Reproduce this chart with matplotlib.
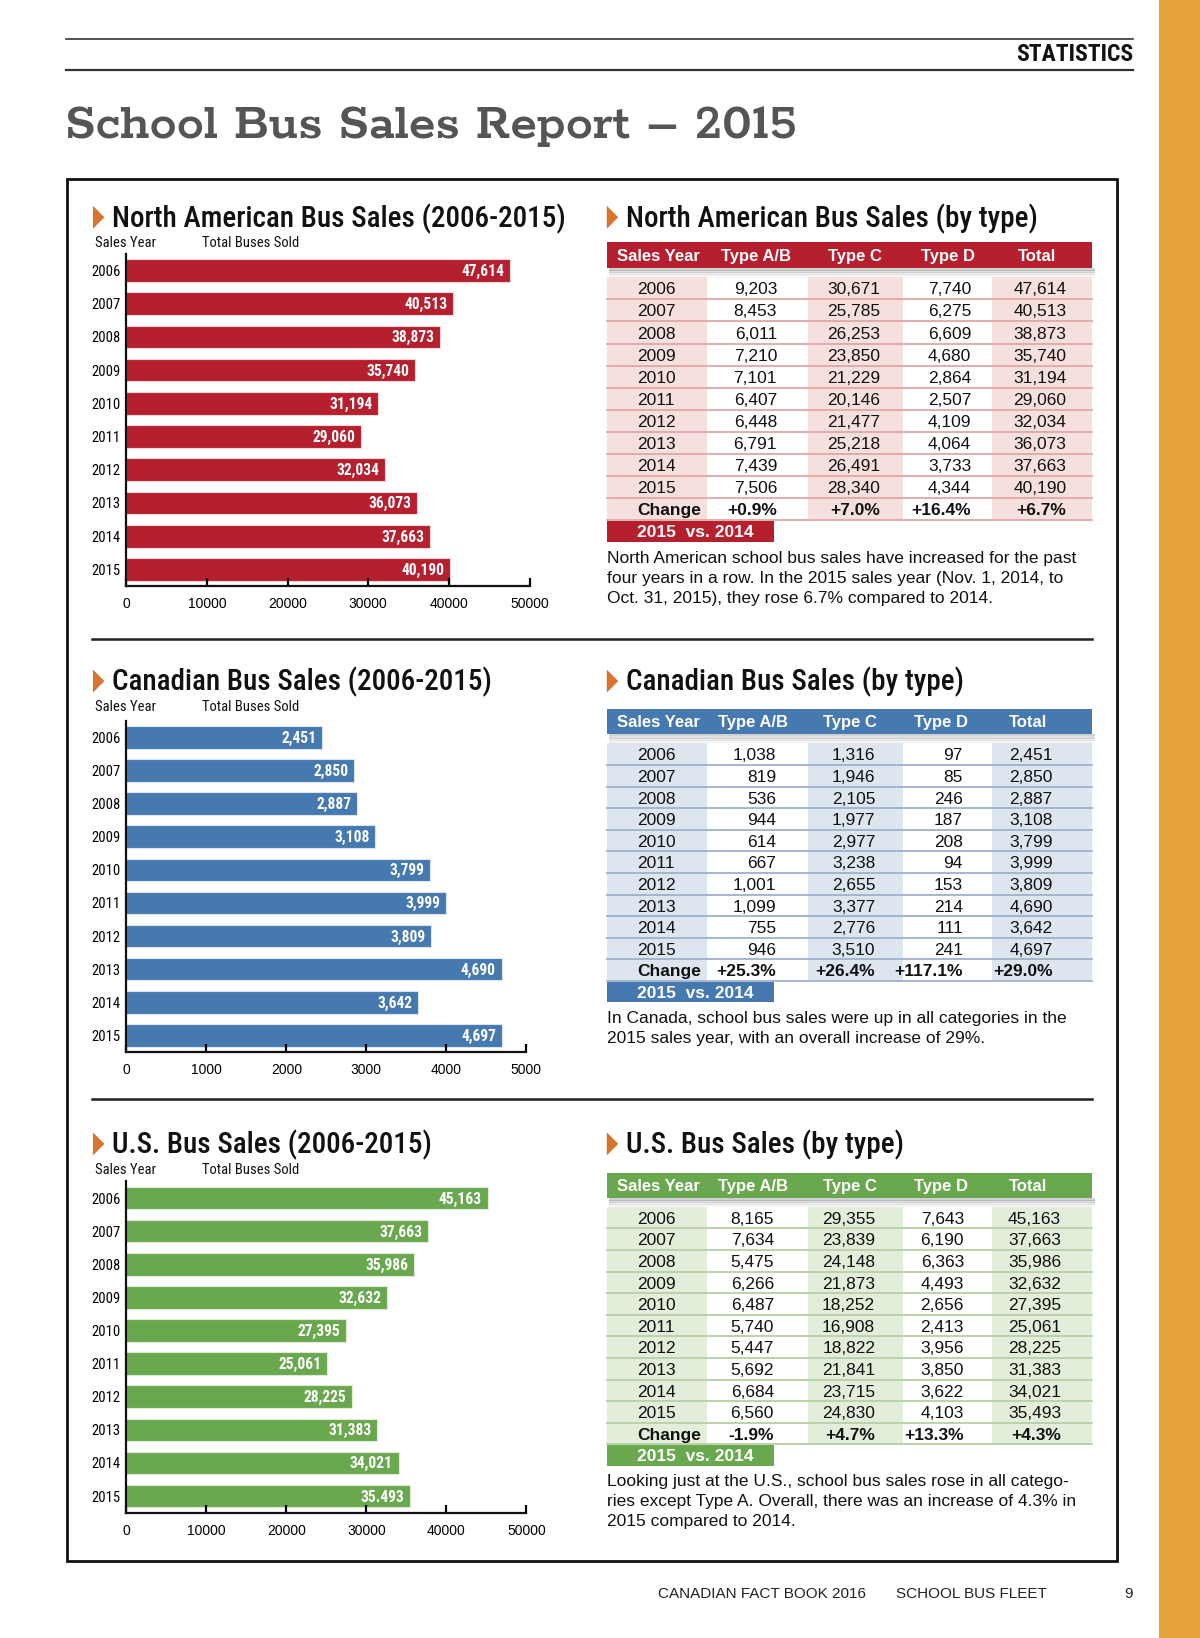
import matplotlib
matplotlib.use("Agg")
import matplotlib.pyplot as plt
from matplotlib.patches import Rectangle, Polygon
from matplotlib import font_manager as fm
import numpy as np

# ---------------- data ----------------
years = [2006, 2007, 2008, 2009, 2010, 2011, 2012, 2013, 2014, 2015]

na_total = [47614, 40513, 38873, 35740, 31194, 29060, 32034, 36073, 37663, 40190]
na_ab = [9203, 8453, 6011, 7210, 7101, 6407, 6448, 6791, 7439, 7506]
na_c = [30671, 25785, 26253, 23850, 21229, 20146, 21477, 25218, 26491, 28340]
na_d = [7740, 6275, 6609, 4680, 2864, 2507, 4109, 4064, 3733, 4344]
na_change = ["+0.9%", "+7.0%", "+16.4%", "+6.7%"]

ca_total = [2451, 2850, 2887, 3108, 3799, 3999, 3809, 4690, 3642, 4697]
ca_ab = [1038, 819, 536, 944, 614, 667, 1001, 1099, 755, 946]
ca_c = [1316, 1946, 2105, 1977, 2977, 3238, 2655, 3377, 2776, 3510]
ca_d = [97, 85, 246, 187, 208, 94, 153, 214, 111, 241]
ca_change = ["+25.3%", "+26.4%", "+117.1%", "+29.0%"]

us_total = [45163, 37663, 35986, 32632, 27395, 25061, 28225, 31383, 34021, 35493]
us_ab = [8165, 7634, 5475, 6266, 6487, 5740, 5447, 5692, 6684, 6560]
us_c = [29355, 23839, 24148, 21873, 18252, 16908, 18822, 21841, 23715, 24830]
us_d = [7643, 6190, 6363, 4493, 2656, 2413, 3956, 3850, 3622, 4103]
us_change = ["-1.9%", "+4.7%", "+13.3%", "+4.3%"]

table_header = ["Sales Year", "Type A/B", "Type C", "Type D", "Total"]

na_text = ["North American school bus sales have increased for the past",
           "four years in a row. In the 2015 sales year (Nov. 1, 2014, to",
           "Oct. 31, 2015), they rose 6.7% compared to 2014."]
ca_text = ["In Canada, school bus sales were up in all categories in the",
           "2015 sales year, with an overall increase of 29%."]
us_text = ["Looking just at the U.S., school bus sales rose in all catego-",
           "ries except Type A. Overall, there was an increase of 4.3% in",
           "2015 compared to 2014."]


# ---------------- fonts ----------------
def pick(cands):
    for c in cands:
        try:
            fm.findfont(fm.FontProperties(family=c), fallback_to_default=False)
            return c
        except Exception:
            pass
    return "DejaVu Sans"


COND = [pick(["Roboto Condensed", "Archivo Narrow", "Fira Sans Condensed"]), "DejaVu Sans"]
SANS = [pick(["Liberation Sans", "Arimo"]), "DejaVu Sans"]
SERIF = [pick(["Rokkitt", "Zilla Slab", "Roboto Slab", "DejaVu Serif"]), "DejaVu Serif"]

# ---------------- layout ----------------
W, H = 1149.0, 1568.0
DY = 1.5  # small downward nudge for table texts
fig = plt.figure(figsize=(12, 16.38), dpi=100)
fig.patch.set_facecolor("white")

page = fig.add_axes([0, 0, 1, 1])
page.set_xlim(0, W)
page.set_ylim(H, 0)
page.axis("off")


def frac(x0, y0, x1, y1):
    return [x0 / W, 1 - y1 / H, (x1 - x0) / W, (y1 - y0) / H]


# page decorations
page.add_patch(Rectangle((1110, 0), 39, H, color="#E5A23A", lw=0))
page.plot([63, 1085], [37, 37], color="#333333", lw=1.2)
page.plot([63, 1085], [67, 67], color="#333333", lw=1.6)
page.text(1085, 52, "STATISTICS", ha="right", va="center", fontsize=17,
          fontweight="bold", family=COND, color="#111111")
page.text(62, 121, "School Bus Sales Report \u2013 2015", ha="left", va="center",
          fontsize=39, fontweight="bold", family=SERIF, color="#555555")
page.add_patch(Rectangle((64, 171), 1006, 1323, fill=False, ec="#111111", lw=2))
for ys in (612, 1052):
    page.plot([88, 1046], [ys, ys], color="#222222", lw=1.8)

# footer
page.text(630, 1526, "CANADIAN FACT BOOK 2016", ha="left", va="center", fontsize=11,
          family=SANS, color="#222222")
page.text(858, 1526, "SCHOOL BUS FLEET", ha="left", va="center", fontsize=11,
          family=SANS, color="#222222")
page.text(1085, 1526, "9", ha="right", va="center", fontsize=11, family=SANS, color="#222222")


def section_title(x, y, text):
    page.add_patch(Polygon([[x, y - 11], [x, y + 11], [x + 11, y]], closed=True,
                           color="#D9742F", lw=0))
    page.text(x + 18, y + 1, text, ha="left", va="center", fontsize=21,
              fontweight="medium", family=COND, color="#111111")


def bar_chart(top, bottom, right, xmax, values, color, title, ty):
    section_title(89, ty, title)
    page.text(91, ty + 25, "Sales Year", ha="left", va="center", fontsize=10.5,
              family=COND, color="#111111")
    page.text(193, ty + 25, "Total Buses Sold", ha="left", va="center", fontsize=10.5,
              family=COND, color="#111111")
    ax = fig.add_axes(frac(121, top, right, bottom))
    pos = np.arange(len(years))
    ax.barh(pos, values, height=0.68, color=color, lw=0.8, edgecolor="#F4D6D6" if color == RED else "#D8E4F0" if color == BLUE else "#DDEBD3")
    ax.set_ylim(len(years) - 0.5, -0.5)
    ax.set_xlim(0, xmax)
    ax.set_yticks(pos)
    ax.set_yticklabels([str(v) for v in years], family=COND, fontsize=10.5)
    ax.tick_params(axis="y", length=0, pad=4)
    ticks = np.linspace(0, xmax, 6)
    ax.set_xticks(ticks)
    ax.set_xticklabels([str(int(t)) for t in ticks], family=SANS, fontsize=10)
    ax.tick_params(axis="x", direction="in", length=6, width=1.6, pad=8)
    for s in ("top", "right"):
        ax.spines[s].set_visible(False)
    for s in ("left", "bottom"):
        ax.spines[s].set_linewidth(1.6)
        ax.spines[s].set_color("#111111")
        ax.spines[s].set_zorder(3)
    ax.patch.set_alpha(0)
    for p, v in zip(pos, values):
        lab = f"{v:,}"
        if color == GREEN and v == 35493:
            lab = "35.493"
        ax.text(v - xmax * 0.014, p + 0.03, lab, ha="right", va="center", color="white",
                fontweight="bold", family=COND, fontsize=11.2)


def table(htop, hbot, row0, rowh, ab, c, d, tot, change, main, tint, line,
          hcent, rights, title, ty, text, ty_text):
    section_title(581, ty, title)
    x0, x1 = 581, 1046
    edges = [581, 676.5, 773.5, 865, 949.5, 1046]
    nrows = len(years) + 1
    btop = row0 - rowh / 2
    bbot = row0 + (nrows - 0.5) * rowh
    for i in (0, 2, 4):
        page.add_patch(Rectangle((edges[i], btop), edges[i + 1] - edges[i], bbot - btop,
                                 color=tint, lw=0))
    for k, a in enumerate([0.18, 0.12, 0.07, 0.04]):
        page.add_patch(Rectangle((x0 + 2, hbot + k * 2), x1 - x0, 2.5, color="black",
                                 alpha=a, lw=0))
    page.add_patch(Rectangle((x0, htop), x1 - x0, hbot - htop, color=main, lw=0))
    hy = (htop + hbot) / 2 + DY
    page.text(591, hy, table_header[0], ha="left", va="center", color="white",
              fontweight="bold", fontsize=12, family=SANS)
    for lab, xc in zip(table_header[1:], hcent):
        page.text(xc, hy, lab, ha="center", va="center", color="white",
                  fontweight="bold", fontsize=12, family=SANS)
    for i, yr in enumerate(years):
        yc = row0 + i * rowh
        page.text(610, yc + DY, str(yr), ha="left", va="center", fontsize=12.5,
                  family=SANS, color="#111111")
        for v, xr in zip((ab[i], c[i], d[i], tot[i]), rights):
            page.text(xr, yc + DY, f"{v:,}", ha="right", va="center", fontsize=12.5,
                      family=SANS, color="#111111")
        page.plot([x0, x1], [yc + rowh / 2, yc + rowh / 2], color=line, lw=1.3)
    yc = row0 + len(years) * rowh
    page.text(610, yc + DY, "Change", ha="left", va="center", fontsize=12.5,
              family=SANS, fontweight="bold", color="#111111")
    for v, xr in zip(change, rights):
        page.text(xr, yc + DY, v, ha="right", va="center", fontsize=12.5,
                  family=SANS, fontweight="bold", color="#111111")
    page.plot([x0, x1], [bbot, bbot], color=line, lw=1.3)
    page.add_patch(Rectangle((x0, bbot + 0.5), 160, rowh - 1, color=main, lw=0))
    page.text(610, bbot + rowh / 2 + DY, "2015  vs. 2014", ha="left", va="center",
              color="white", fontweight="bold", fontsize=12.5, family=SANS)
    for k, ln in enumerate(text):
        page.text(581, ty_text + k * 19.2 + DY, ln, ha="left", va="center", fontsize=12.5,
                  family=SANS, color="#111111")


RED, BLUE, GREEN = "#B51F2E", "#4679B0", "#6AA84F"

bar_chart(243, 561, 507, 50000, na_total, RED, "North American Bus Sales (2006-2015)", 208)
bar_chart(690, 1007, 504, 5000, ca_total, BLUE, "Canadian Bus Sales (2006-2015)", 652)
bar_chart(1131, 1448, 504, 50000, us_total, GREEN, "U.S. Bus Sales (2006-2015)", 1095)

table(232, 256.5, 276, 21.14, na_ab, na_c, na_d, na_total, na_change, RED,
      "#F6E0DE", "#E2A7A7", [724, 819, 908, 993], [744, 843, 930, 1021],
      "North American Bus Sales (by type)", 208, na_text, 533)
table(678.5, 702.5, 722, 20.68, ca_ab, ca_c, ca_d, ca_total, ca_change, BLUE,
      "#DDE5EF", "#9EB1CA", [721, 814, 901, 984], [743, 838, 922, 1008],
      "Canadian Bus Sales (by type)", 652, ca_text, 973)
table(1122.5, 1147, 1165.6, 20.68, us_ab, us_c, us_d, us_total, us_change, GREEN,
      "#E3EEDA", "#B7CFA5", [721, 814, 901, 984], [741, 838, 923, 1016],
      "U.S. Bus Sales (by type)", 1095, us_text, 1417)

fig.savefig("out.png", dpi=100, facecolor="white")
